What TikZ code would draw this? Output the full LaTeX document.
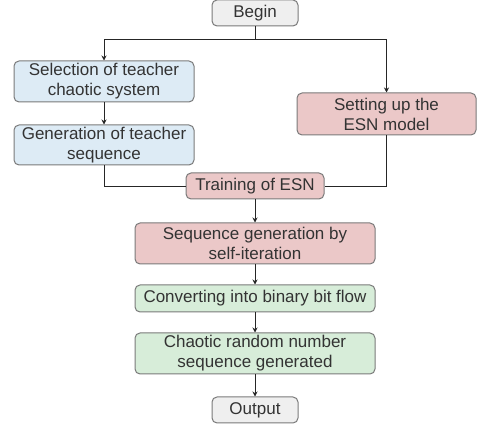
\documentclass[tikz,border=0pt]{standalone}
\usepackage{fontspec}
\setmainfont{Liberation Sans}
\usetikzlibrary{arrows.meta}
\definecolor{bordergray}{HTML}{7A7A7A}
\definecolor{txtgray}{HTML}{333333}
\definecolor{fillgray}{HTML}{EFEFEF}
\definecolor{fillblue}{HTML}{DDEBF5}
\definecolor{fillred}{HTML}{EBC8C8}
\definecolor{fillgreen}{HTML}{D7EDD9}
\tikzset{
  box/.style={draw=bordergray, line width=1pt, rounded corners=5pt, align=center,
    text=txtgray, inner sep=0pt,
    font=\fontsize{17}{20}\selectfont},
  graybox/.style={box, fill=fillgray},
  bluebox/.style={box, fill=fillblue},
  redbox/.style={box, fill=fillred},
  greenbox/.style={box, fill=fillgreen},
  conn/.style={draw=black!85, line width=0.9pt},
  arr/.style={conn, -{Stealth[length=5pt,width=5pt]}}
}
\begin{document}
\begin{tikzpicture}[x=1pt,y=-1pt]
\useasboundingbox (0,0) rectangle (477,427);
\node[graybox, minimum width=86pt, minimum height=26pt] (begin) at (255,13) {Begin};
\node[bluebox, minimum width=180pt, minimum height=41pt] (sel) at (104,81.5) {Selection of teacher\\chaotic system};
\node[bluebox, minimum width=180pt, minimum height=40pt] (gen) at (104,145) {Generation of teacher\\sequence};
\node[redbox, minimum width=179pt, minimum height=42pt] (setup) at (386.5,114) {Setting up the\\ESN model};
\node[redbox, minimum width=138pt, minimum height=26pt] (train) at (255,186) {Training of ESN};
\node[redbox, minimum width=240pt, minimum height=41pt] (seq) at (255,243.5) {Sequence generation by\\self-iteration};
\node[greenbox, minimum width=240pt, minimum height=27pt] (conv) at (255,298.5) {Converting into binary bit flow};
\node[greenbox, minimum width=240pt, minimum height=41pt] (chaos) at (255,353.5) {Chaotic random number\\sequence generated};
\node[graybox, minimum width=86pt, minimum height=26pt] (out) at (255,410) {Output};
\coordinate (split) at (255,39);
\draw[conn] (begin.south) -- (split);
\draw[arr] (split) -| (sel.north);
\draw[arr] (split) -| (setup.north);
\draw[arr] (sel.south) -- (gen.north);
\draw[conn] (gen.south) |- (train.west);
\draw[conn] (setup.south) |- (train.east);
\draw[arr] (train.south) -- (seq.north);
\draw[arr] (seq.south) -- (conv.north);
\draw[arr] (conv.south) -- (chaos.north);
\draw[arr] (chaos.south) -- (out.north);
\end{tikzpicture}
\end{document}
